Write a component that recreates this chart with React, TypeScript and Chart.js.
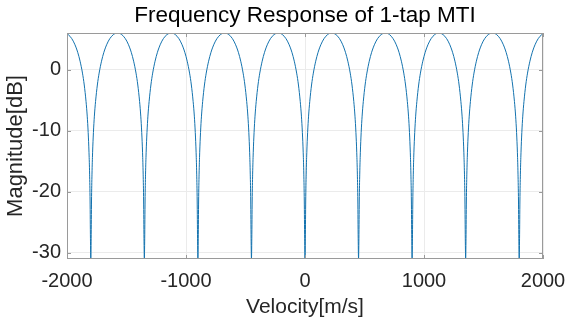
import React, { useEffect, useRef } from "react";
import { Chart, registerables } from "chart.js";

Chart.register(...registerables);

const titleText = "Frequency Response of 1-tap MTI";
const xTitle = "Velocity[m/s]";
const yTitle = "Magnitude[dB]";

// velocities (m/s) of the response nulls (blind speeds), one lobe starts at each
const nullVelocities = [-2250, -1800, -1350, -900, -450, 0, 450, 900, 1350, 1800];
// shape of one lobe: offset from the null (m/s) and magnitude (dB)
const lobeOffsets = [0, 3, 6, 10, 15, 22, 30, 40, 55, 70, 90, 110, 135, 160, 190, 225, 260, 290, 315, 340, 360, 380, 395, 410, 420, 428, 435, 440, 444, 447];
const lobeDb = [-31, -27.6, -21.5, -17.1, -13.6, -10.3, -7.6, -5.2, -2.5, -0.55, 1.4, 2.86, 4.18, 5.1, 5.76, 6.02, 5.76, 5.1, 4.18, 2.86, 1.4, -0.55, -2.5, -5.2, -7.6, -10.3, -13.6, -17.1, -21.5, -27.6];
const lastNull = 2250;
const lastNullDb = -31;

const xTicks = [-2000, -1000, 0, 1000, 2000];
const yTicks = [-30, -20, -10, 0];
const xMin = -2000;
const xMax = 2000;
const yMin = -31;
const yMax = 6.02;

const FONT = "'Liberation Sans', Arial, Helvetica, sans-serif";
const TEXT = "#262626";
const BOX = "#9a9a9a";
const GRID = "#ebebeb";
const LINE = "#1372AE";

const boxPlugin = {
  id: "boxPlugin",
  afterDraw(chart: any) {
    const { ctx, chartArea } = chart;
    const { left, right, top, bottom } = chartArea;
    ctx.save();
    ctx.strokeStyle = BOX;
    ctx.lineWidth = 1;
    ctx.strokeRect(Math.round(left) + 0.5, Math.round(top) + 0.5, Math.round(right - left) - 1, Math.round(bottom - top) - 1);
    const xs = chart.scales.x;
    const ys = chart.scales.y;
    const tl = 4;
    ctx.beginPath();
    xTicks.forEach((v) => {
      const px = Math.round(xs.getPixelForValue(v)) + 0.5;
      ctx.moveTo(px, bottom);
      ctx.lineTo(px, bottom - tl);
      ctx.moveTo(px, top);
      ctx.lineTo(px, top + tl);
    });
    yTicks.forEach((v) => {
      const py = Math.round(ys.getPixelForValue(v)) + 0.5;
      ctx.moveTo(left, py);
      ctx.lineTo(left + tl, py);
      ctx.moveTo(right, py);
      ctx.lineTo(right - tl, py);
    });
    ctx.stroke();
    ctx.restore();
  },
};

export default function App() {
  const ref = useRef<HTMLCanvasElement | null>(null);
  useEffect(() => {
    document.body.style.margin = "0";
    const points: { x: number; y: number }[] = [];
    nullVelocities.forEach((n) => {
      lobeOffsets.forEach((o, i) => {
        points.push({ x: n + o, y: lobeDb[i] });
      });
    });
    points.push({ x: lastNull, y: lastNullDb });

    const chart = new Chart(ref.current as HTMLCanvasElement, {
      type: "line",
      data: {
        datasets: [
          {
            data: points,
            borderColor: LINE,
            borderWidth: 1,
            pointRadius: 0,
            cubicInterpolationMode: "monotone",
            fill: false,
          },
        ],
      },
      plugins: [boxPlugin],
      options: {
        animation: false,
        responsive: false,
        maintainAspectRatio: false,
        devicePixelRatio: 1,
        layout: { padding: { left: 0, right: 22, top: 0, bottom: 0 } },
        plugins: {
          legend: { display: false },
          tooltip: { enabled: false },
          title: {
            display: true,
            text: titleText,
            fullSize: false,
            color: "#000",
            font: { family: FONT, size: 22.5, weight: "normal", lineHeight: 1.2 },
            padding: { top: 2, bottom: 4 },
          },
        },
        scales: {
          x: {
            type: "linear",
            min: xMin,
            max: xMax,
            afterBuildTicks: (s: any) => {
              s.ticks = xTicks.map((v) => ({ value: v }));
            },
            afterFit: (s: any) => {
              s.height = 67;
              s.paddingLeft = 0;
              s.paddingRight = 0;
            },
            grid: { color: GRID, drawTicks: false },
            border: { display: false },
            ticks: {
              color: TEXT,
              font: { family: FONT, size: 20 },
              padding: 10,
              maxRotation: 0,
              autoSkip: false,
              callback: (v: any) => String(v),
            },
            title: {
              display: true,
              text: xTitle,
              color: TEXT,
              font: { family: FONT, size: 21 },
              padding: { top: 0, bottom: 6 },
            },
          },
          y: {
            type: "linear",
            min: yMin,
            max: yMax,
            afterBuildTicks: (s: any) => {
              s.ticks = yTicks.map((v) => ({ value: v }));
            },
            afterFit: (s: any) => {
              s.width = 67;
              s.paddingTop = 0;
              s.paddingBottom = 0;
            },
            grid: { color: GRID, drawTicks: false },
            border: { display: false },
            ticks: {
              color: TEXT,
              font: { family: FONT, size: 20 },
              padding: 6,
              callback: (v: any) => String(v),
            },
            title: {
              display: true,
              text: yTitle,
              color: TEXT,
              font: { family: FONT, size: 22 },
              padding: { top: 3, bottom: 0 },
            },
          },
        },
      } as any,
    });
    return () => chart.destroy();
  }, []);
  return (
    <div style={{ width: 565, height: 326 }}>
      <canvas ref={ref} width={565} height={326} style={{ display: "block" }} />
    </div>
  );
}
